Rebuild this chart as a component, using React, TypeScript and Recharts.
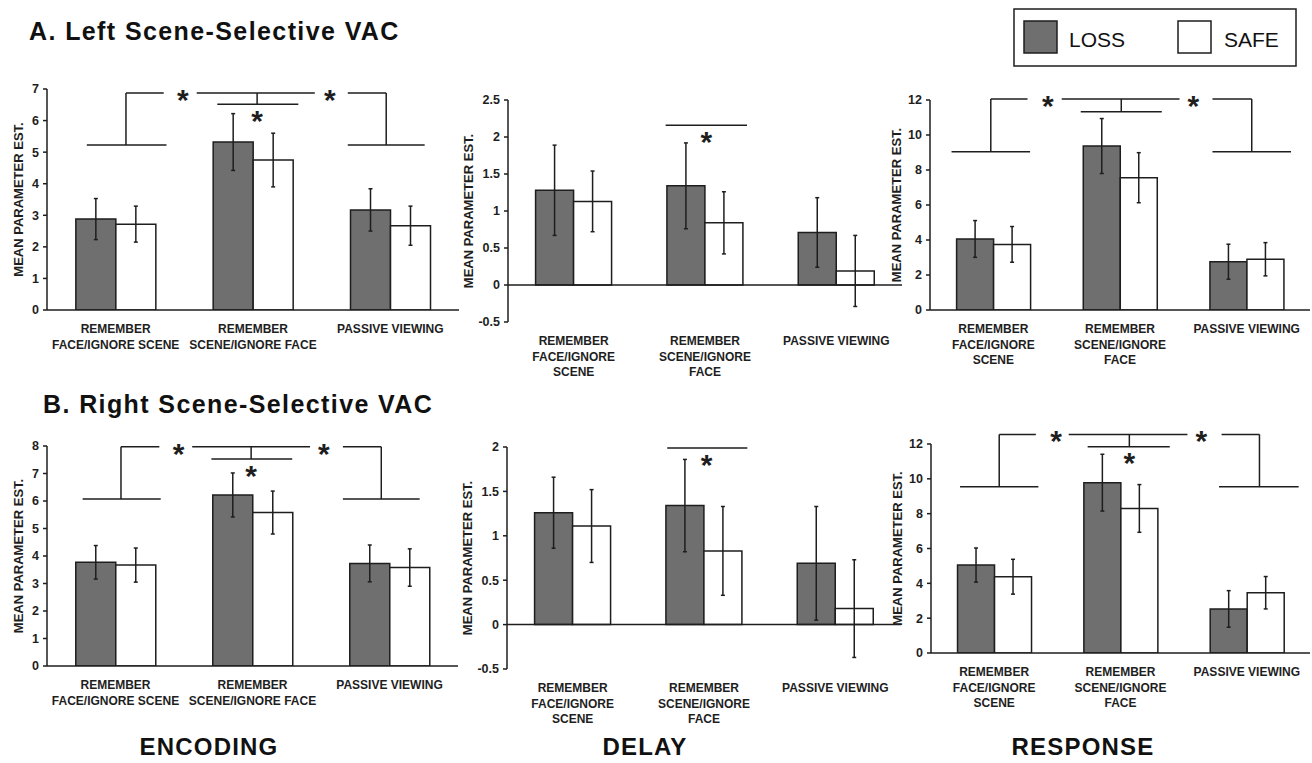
import { BarChart, Bar, XAxis, YAxis, ErrorBar, ReferenceLine, ReferenceDot } from 'recharts';

const FONT = '"Liberation Sans", Arial, Helvetica, sans-serif';
const INK = '#1e1e1e';
const LOSS_FILL = '#6f6f6f';
const SAFE_FILL = '#ffffff';

// category labels (\n = line break)
const encCats = ['REMEMBER\nFACE/IGNORE SCENE', 'REMEMBER\nSCENE/IGNORE FACE', 'PASSIVE VIEWING'];
const otherCats = ['REMEMBER\nFACE/IGNORE\nSCENE', 'REMEMBER\nSCENE/IGNORE\nFACE', 'PASSIVE VIEWING'];

// y ticks
const encATicks = [0, 1, 2, 3, 4, 5, 6, 7];
const encBTicks = [0, 1, 2, 3, 4, 5, 6, 7, 8];
const delayATicks = [-0.5, 0, 0.5, 1, 1.5, 2, 2.5];
const delayBTicks = [-0.5, 0, 0.5, 1, 1.5, 2];
const respTicks = [0, 2, 4, 6, 8, 10, 12];

// A. Left scene-selective VAC
const encALoss = [2.88, 5.32, 3.17];
const encALossErr = [0.65, 0.9, 0.67];
const encASafe = [2.72, 4.75, 2.67];
const encASafeErr = [0.57, 0.85, 0.62];

const delayALoss = [1.28, 1.34, 0.71];
const delayALossErr = [0.61, 0.58, 0.47];
const delayASafe = [1.13, 0.84, 0.19];
const delayASafeErr = [0.41, 0.42, 0.48];

const respALoss = [4.06, 9.37, 2.76];
const respALossErr = [1.05, 1.57, 1.0];
const respASafe = [3.75, 7.56, 2.9];
const respASafeErr = [1.02, 1.43, 0.95];

// B. Right scene-selective VAC
const encBLoss = [3.77, 6.22, 3.73];
const encBLossErr = [0.61, 0.8, 0.67];
const encBSafe = [3.67, 5.58, 3.58];
const encBSafeErr = [0.62, 0.78, 0.68];

const delayBLoss = [1.26, 1.34, 0.69];
const delayBLossErr = [0.4, 0.52, 0.64];
const delayBSafe = [1.11, 0.83, 0.18];
const delayBSafeErr = [0.41, 0.5, 0.55];

const respBLoss = [5.05, 9.78, 2.53];
const respBLossErr = [0.98, 1.63, 1.05];
const respBSafe = [4.38, 8.3, 3.46];
const respBSafeErr = [1.0, 1.37, 0.93];

// significance brackets: [x1, y1, x2, y2] in (category units 0..3, data units)
type Seg = [number, number, number, number];
const encABrackets: Seg[] = [
  [0.29, 5.23, 0.87, 5.23], [0.575, 5.23, 0.575, 6.87], [0.575, 6.87, 0.85, 6.87],
  [1.09, 6.87, 1.95, 6.87], [1.53, 6.87, 1.53, 6.52], [1.24, 6.52, 1.83, 6.52],
  [2.19, 6.87, 2.47, 6.87], [2.47, 6.87, 2.47, 5.23], [2.19, 5.23, 2.75, 5.23],
];
const encAStars = [[0.99, 6.87], [2.06, 6.87], [1.53, 6.22]];
const delayABrackets: Seg[] = [[1.2, 2.16, 1.82, 2.16]];
const delayAStars = [[1.51, 2.03]];
const respABrackets: Seg[] = [
  [0.17, 9.05, 0.79, 9.05], [0.48, 9.05, 0.48, 12.06], [0.48, 12.06, 0.77, 12.06],
  [1.04, 12.06, 1.97, 12.06], [1.51, 12.06, 1.51, 11.33], [1.19, 11.33, 1.83, 11.33],
  [2.23, 12.06, 2.54, 12.06], [2.54, 12.06, 2.54, 9.05], [2.23, 9.05, 2.85, 9.05],
];
const respAStars = [[0.93, 12.06], [2.08, 12.06]];

const encBBrackets: Seg[] = [
  [0.26, 6.07, 0.83, 6.07], [0.54, 6.07, 0.54, 7.97], [0.54, 7.97, 0.82, 7.97],
  [1.06, 7.97, 1.92, 7.97], [1.49, 7.97, 1.49, 7.53], [1.2, 7.53, 1.79, 7.53],
  [2.16, 7.97, 2.44, 7.97], [2.44, 7.97, 2.44, 6.07], [2.16, 6.07, 2.72, 6.07],
];
const encBStars = [[0.96, 7.97], [2.02, 7.97], [1.49, 7.18]];
const delayBBrackets: Seg[] = [[1.22, 1.99, 1.83, 1.99]];
const delayBStars = [[1.52, 1.88]];
const respBBrackets: Seg[] = [
  [0.23, 9.55, 0.85, 9.55], [0.54, 9.55, 0.54, 12.55], [0.54, 12.55, 0.83, 12.55],
  [1.09, 12.55, 2.03, 12.55], [1.57, 12.55, 1.57, 11.84], [1.24, 11.84, 1.89, 11.84],
  [2.3, 12.55, 2.6, 12.55], [2.6, 12.55, 2.6, 9.55], [2.28, 9.55, 2.91, 9.55],
];
const respBStars = [[0.99, 12.55], [2.14, 12.55], [1.57, 11.31]];

const CatTick = (props: any) => {
  const { x, y, payload } = props;
  const lines = String(payload.value).split('\n');
  return (
    <text textAnchor="middle" fontFamily={FONT} fontSize={12} fontWeight="bold" fill={INK}>
      {lines.map((l, i) => (
        <tspan key={i} x={x} y={y + 23 + i * 15.5}>{l}</tspan>
      ))}
    </text>
  );
};

const Star = (p: any) => (
  <text x={p.cx} y={p.cy + 17} textAnchor="middle" fontFamily={FONT} fontSize={30} fontWeight="bold" fill={INK}>*</text>
);

interface PanelProps {
  left: number; top: number; width: number; height: number;
  cats: string[]; loss: number[]; lossErr: number[]; safe: number[]; safeErr: number[];
  domain: [number, number]; ticks: number[];
  brackets: Seg[]; stars: number[][];
  zeroLine?: boolean; labelGap: number;
}

function Panel(p: PanelProps) {
  const YW = 47, MT = 30, MR = 4, XH = 62;
  // pos = category centre in category units, used by the hidden numeric axis
  const data = p.cats.map((c, i) => ({
    cat: c, pos: i + 0.5, loss: p.loss[i], safe: p.safe[i], lossErr: p.lossErr[i], safeErr: p.safeErr[i],
  }));

  const yLabel = (lp: any) => {
    const vb = lp.viewBox || {};
    const cx = vb.x + vb.width - p.labelGap;
    const cy = vb.y + vb.height / 2;
    return (
      <text x={cx} y={cy} transform={`rotate(-90 ${cx} ${cy})`} textAnchor="middle" dominantBaseline="central"
        fontFamily={FONT} fontSize={13} fontWeight="bold" fill={INK}>
        MEAN PARAMETER EST.
      </text>
    );
  };

  return (
    <div style={{ position: 'absolute', left: p.left - YW, top: p.top - MT }}>
      <BarChart width={YW + p.width + MR} height={MT + p.height + XH} data={data}
        margin={{ top: MT, right: MR, bottom: 0, left: 0 }} barCategoryGap="21%" barGap={0}>
        <XAxis dataKey="cat" interval={0} tickSize={0} tickMargin={0} height={XH}
          axisLine={p.zeroLine ? false : { stroke: INK, strokeWidth: 1.5 }} tickLine={false}
          tick={(tp: any) => <CatTick {...tp} />} />
        <XAxis xAxisId="n" dataKey="pos" type="number" domain={[0, 3]} hide allowDataOverflow />
        <YAxis width={YW} domain={p.domain} ticks={p.ticks} interval={0} allowDataOverflow
          tickSize={4} tickMargin={4}
          tick={{ fontSize: 12.5, fontWeight: 'bold', fill: INK, fontFamily: FONT }}
          axisLine={{ stroke: INK, strokeWidth: 1.5 }} tickLine={{ stroke: INK, strokeWidth: 1.5 }}
          label={yLabel} />
        {p.zeroLine && <ReferenceLine y={0} stroke={INK} strokeWidth={1.5} />}
        <Bar dataKey="loss" fill={LOSS_FILL} stroke={INK} strokeWidth={1.5} isAnimationActive={false}>
          <ErrorBar dataKey="lossErr" width={2} stroke={INK} strokeWidth={1.5} direction="y" />
        </Bar>
        <Bar dataKey="safe" fill={SAFE_FILL} stroke={INK} strokeWidth={1.5} isAnimationActive={false}>
          <ErrorBar dataKey="safeErr" width={2} stroke={INK} strokeWidth={1.5} direction="y" />
        </Bar>
        {p.brackets.map((s, i) => (
          <ReferenceLine key={`b${i}`} xAxisId="n" ifOverflow="visible" stroke={INK} strokeWidth={1.5}
            segment={[{ x: s[0], y: s[1] }, { x: s[2], y: s[3] }]} />
        ))}
        {p.stars.map((s, i) => (
          <ReferenceDot key={`s${i}`} xAxisId="n" x={s[0]} y={s[1]} r={0} ifOverflow="visible" shape={Star} />
        ))}
      </BarChart>
    </div>
  );
}

export default function App() {
  return (
    <div style={{ position: 'absolute', left: 0, top: 0, width: 1312, height: 763, background: '#fff', overflow: 'hidden' }}>
      <svg width={1312} height={763} style={{ position: 'absolute', left: 0, top: 0 }}>
        <text x={29} y={40} fontFamily={FONT} fontSize={25} fontWeight="bold" letterSpacing={1.4} fill="#111">
          A. Left Scene-Selective VAC
        </text>
        <text x={43} y={413} fontFamily={FONT} fontSize={25} fontWeight="bold" letterSpacing={1.4} fill="#111">
          B. Right Scene-Selective VAC
        </text>
        <text x={209} y={755} textAnchor="middle" fontFamily={FONT} fontSize={24} fontWeight="bold" letterSpacing={1.2} fill="#111">ENCODING</text>
        <text x={645} y={755} textAnchor="middle" fontFamily={FONT} fontSize={24} fontWeight="bold" letterSpacing={1.2} fill="#111">DELAY</text>
        <text x={1083} y={755} textAnchor="middle" fontFamily={FONT} fontSize={24} fontWeight="bold" letterSpacing={1.2} fill="#111">RESPONSE</text>
        {/* legend */}
        <rect x={1014} y={9} width={282} height={57} fill="#fff" stroke={INK} strokeWidth={1.5} />
        <rect x={1024} y={21} width={33} height={32} fill={LOSS_FILL} stroke={INK} strokeWidth={1.5} />
        <text x={1069} y={47} fontFamily={FONT} fontSize={21} fill="#111">LOSS</text>
        <rect x={1178} y={21} width={33} height={32} fill={SAFE_FILL} stroke={INK} strokeWidth={1.5} />
        <text x={1224} y={47} fontFamily={FONT} fontSize={21} fill="#111">SAFE</text>
      </svg>

      <Panel left={47} top={89} width={412} height={221} cats={encCats}
        loss={encALoss} lossErr={encALossErr} safe={encASafe} safeErr={encASafeErr}
        domain={[0, 7]} ticks={encATicks} brackets={encABrackets} stars={encAStars} labelGap={29} />
      <Panel left={508} top={100} width={394} height={222} cats={otherCats} zeroLine
        loss={delayALoss} lossErr={delayALossErr} safe={delayASafe} safeErr={delayASafeErr}
        domain={[-0.5, 2.5]} ticks={delayATicks} brackets={delayABrackets} stars={delayAStars} labelGap={40} />
      <Panel left={930} top={100} width={380} height={210} cats={otherCats}
        loss={respALoss} lossErr={respALossErr} safe={respASafe} safeErr={respASafeErr}
        domain={[0, 12]} ticks={respTicks} brackets={respABrackets} stars={respAStars} labelGap={34} />

      <Panel left={47} top={446} width={411} height={220} cats={encCats}
        loss={encBLoss} lossErr={encBLossErr} safe={encBSafe} safeErr={encBSafeErr}
        domain={[0, 8]} ticks={encBTicks} brackets={encBBrackets} stars={encBStars} labelGap={29} />
      <Panel left={507} top={447} width={394} height={222} cats={otherCats} zeroLine
        loss={delayBLoss} lossErr={delayBLossErr} safe={delayBSafe} safeErr={delayBSafeErr}
        domain={[-0.5, 2]} ticks={delayBTicks} brackets={delayBBrackets} stars={delayBStars} labelGap={40} />
      <Panel left={931} top={444} width={379} height={209} cats={otherCats}
        loss={respBLoss} lossErr={respBLossErr} safe={respBSafe} safeErr={respBSafeErr}
        domain={[0, 12]} ticks={respTicks} brackets={respBBrackets} stars={respBStars} labelGap={34} />
    </div>
  );
}
